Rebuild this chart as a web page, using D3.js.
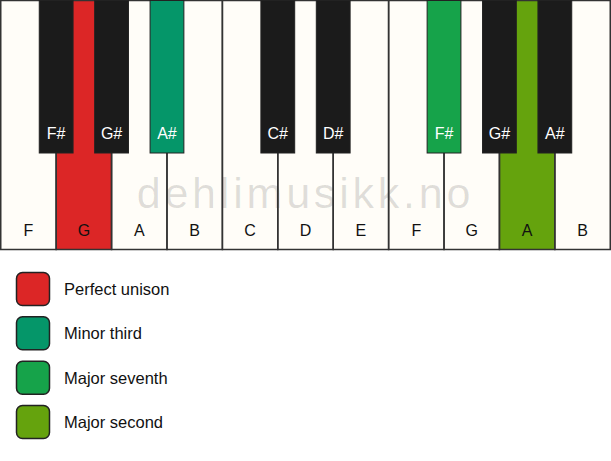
<!DOCTYPE html>
<html>
<head>
<meta charset="utf-8">
<script src="https://cdn.jsdelivr.net/npm/d3@7"></script>
<style>
  body { margin: 0; background: #fff; }
  svg { display: block; font-family: "Liberation Sans", Arial, sans-serif; }
</style>
</head>
<body>
<svg id="chart"></svg>
<script>
// keyboard data
var whiteKeys = ["F", "G", "A", "B", "C", "D", "E", "F", "G", "A", "B"];
// black keys: name + index of the white key on their left
var blackKeys = ["F#", "G#", "A#", "C#", "D#", "F#", "G#", "A#"];
var blackAfter = [0, 1, 2, 4, 5, 7, 8, 9];
// highlighted keys ("w" = white index, "b" = black index)
var highlightKeys = ["w1", "b2", "b5", "w9"];
var intervalNames = ["Perfect unison", "Minor third", "Major seventh", "Major second"];
var intervalColors = ["#dc2626", "#059669", "#16a34a", "#65a30d"];

var width = 611, height = 461;
var keyTop = 0.5, keyBottom = 249.5, blackBottom = 153;

var svg = d3.select("#chart")
  .attr("width", width)
  .attr("height", height);

var colorOf = {};
highlightKeys.forEach(function(k, i) { colorOf[k] = intervalColors[i]; });

// x scale for the white keys
var x = d3.scaleBand()
  .domain(d3.range(whiteKeys.length))
  .range([0.75, width - 0.75])
  .padding(0);

var bw = x.bandwidth() * 0.61;

// white key fills
svg.append("g")
  .selectAll("rect")
  .data(whiteKeys)
  .enter().append("rect")
  .attr("x", function(d, i) { return x(i); })
  .attr("y", keyTop)
  .attr("width", x.bandwidth())
  .attr("height", keyBottom - keyTop)
  .attr("fill", function(d, i) { return colorOf["w" + i] || "#fffdf8"; });

// watermark
svg.append("text")
  .attr("x", width / 2)
  .attr("y", 208)
  .attr("text-anchor", "middle")
  .attr("font-size", "43px")
  .attr("letter-spacing", "3.8px")
  .attr("fill", "#000")
  .attr("fill-opacity", 0.13)
  .text("dehlimusikk.no");

// white key outlines
svg.append("g")
  .selectAll("rect")
  .data(whiteKeys)
  .enter().append("rect")
  .attr("x", function(d, i) { return x(i); })
  .attr("y", keyTop)
  .attr("width", x.bandwidth())
  .attr("height", keyBottom - keyTop)
  .attr("fill", "none")
  .attr("stroke", "#333")
  .attr("stroke-width", 1.5);

// white key labels
svg.append("g")
  .selectAll("text")
  .data(whiteKeys)
  .enter().append("text")
  .attr("x", function(d, i) { return x(i) + x.bandwidth() / 2; })
  .attr("y", 236)
  .attr("text-anchor", "middle")
  .attr("font-size", "16px")
  .attr("fill", "#111")
  .text(function(d) { return d; });

// black keys
var black = svg.append("g")
  .selectAll("g")
  .data(blackKeys)
  .enter().append("g");

black.append("rect")
  .attr("x", function(d, i) { return x(blackAfter[i]) + x.bandwidth() - bw / 2; })
  .attr("y", keyTop)
  .attr("width", bw)
  .attr("height", blackBottom - keyTop)
  .attr("fill", function(d, i) { return colorOf["b" + i] || "#1b1b1b"; })
  .attr("stroke", "#222")
  .attr("stroke-width", 1);

black.append("text")
  .attr("x", function(d, i) { return x(blackAfter[i]) + x.bandwidth(); })
  .attr("y", 139)
  .attr("text-anchor", "middle")
  .attr("font-size", "16px")
  .attr("fill", "#fff")
  .text(function(d) { return d; });

// legend
var ly = d3.scaleLinear()
  .domain([0, intervalNames.length - 1])
  .range([272, 405]);

var legend = svg.append("g")
  .selectAll("g")
  .data(intervalNames)
  .enter().append("g")
  .attr("transform", function(d, i) { return "translate(16," + ly(i) + ")"; });

legend.append("rect")
  .attr("x", 0.5)
  .attr("y", 0.5)
  .attr("width", 33)
  .attr("height", 33)
  .attr("rx", 6)
  .attr("fill", function(d, i) { return intervalColors[i]; })
  .attr("stroke", "#222")
  .attr("stroke-width", 1.5);

legend.append("text")
  .attr("x", 48)
  .attr("y", 23)
  .attr("font-size", "16.5px")
  .attr("fill", "#111")
  .text(function(d) { return d; });
</script>
</body>
</html>
